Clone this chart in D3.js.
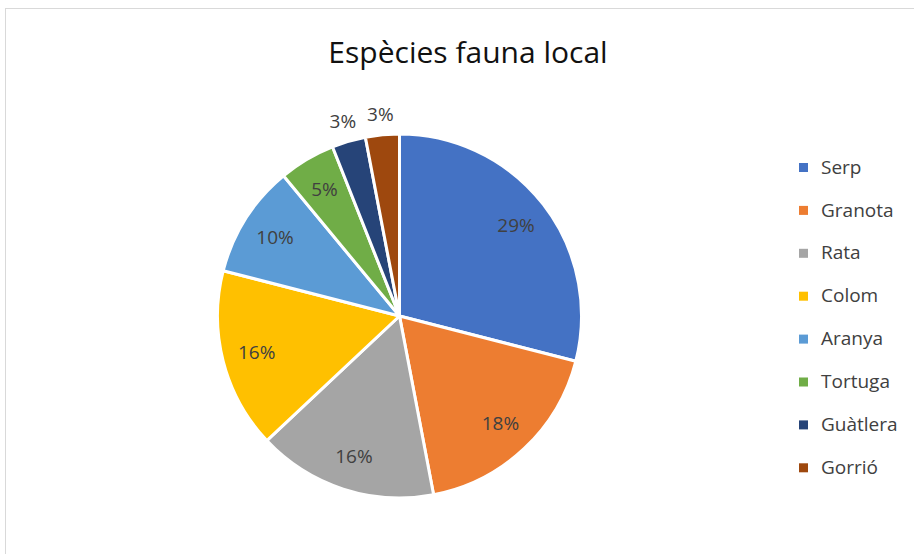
<!DOCTYPE html>
<html lang="ca">
  <head>
    <meta charset="utf-8">
    <title>Espècies fauna local</title>
    <script src="https://d3js.org/d3.v7.min.js"></script>
    <style>
      body { margin: 0; background: #fff; }
      svg { display: block; font-family: "Open Sans", Lato, sans-serif; }
    </style>
  </head>
  <body>
    <div id="chart"></div>
    <script>
      var categories = ["Serp", "Granota", "Rata", "Colom", "Aranya", "Tortuga", "Guàtlera", "Gorrió"];
      var values = [29, 18, 16, 16, 10, 5, 3, 3];
      var colors = ["#4472C4", "#ED7D31", "#A5A5A5", "#FFC000", "#5B9BD5", "#70AD47", "#264478", "#9E480E"];
      var outsideLabels = ["Guàtlera", "Gorrió"];

      var width = 914, height = 554;
      var cx = 399.5, cy = 316, r = 182;

      var svg = d3.select("#chart").append("svg")
        .attr("width", width)
        .attr("height", height);

      // chart area frame
      svg.append("rect")
        .attr("x", 5.5).attr("y", 8.5)
        .attr("width", 920).attr("height", 560)
        .attr("fill", "#fff")
        .attr("stroke", "#d9d9d9");

      svg.append("text")
        .attr("x", 468).attr("y", 63)
        .attr("text-anchor", "middle")
        .attr("font-size", 30)
        .attr("fill", "#111")
        .text("Espècies fauna local");

      var color = d3.scaleOrdinal().domain(categories).range(colors);
      var data = categories.map(function(c, i) { return { name: c, value: values[i] }; });
      var total = d3.sum(values);

      var pie = d3.pie().sort(null).value(function(d) { return d.value; });
      var arc = d3.arc().innerRadius(0).outerRadius(r);
      var labelArc = d3.arc().innerRadius(r * 0.81).outerRadius(r * 0.81);
      var outerArc = d3.arc().innerRadius(r + 21).outerRadius(r + 21);

      var g = svg.append("g").attr("transform", "translate(" + cx + "," + cy + ")");
      var arcs = pie(data);

      g.selectAll("path").data(arcs).enter().append("path")
        .attr("d", arc)
        .attr("fill", function(d) { return color(d.data.name); })
        .attr("stroke", "#fff")
        .attr("stroke-width", 3)
        .attr("stroke-linejoin", "round");

      g.selectAll("text.lbl").data(arcs).enter().append("text")
        .attr("class", "lbl")
        .attr("transform", function(d) {
          var p = outsideLabels.indexOf(d.data.name) >= 0 ? outerArc.centroid(d) : labelArc.centroid(d);
          return "translate(" + p + ")";
        })
        .attr("text-anchor", "middle")
        .attr("dy", "0.35em")
        .attr("font-size", 19)
        .attr("fill", "#404040")
        .text(function(d) { return Math.round(d.data.value / total * 100) + "%"; });

      var legend = svg.selectAll(".legend").data(categories).enter().append("g")
        .attr("class", "legend")
        .attr("transform", function(d, i) { return "translate(799," + (167 + i * 42.9) + ")"; });
      legend.append("rect")
        .attr("x", 0).attr("y", -4)
        .attr("width", 9).attr("height", 9)
        .attr("fill", function(d) { return color(d); });
      legend.append("text")
        .attr("x", 22).attr("dy", "0.35em")
        .attr("font-size", 19)
        .attr("fill", "#404040")
        .text(function(d) { return d; });
    </script>
  </body>
</html>
